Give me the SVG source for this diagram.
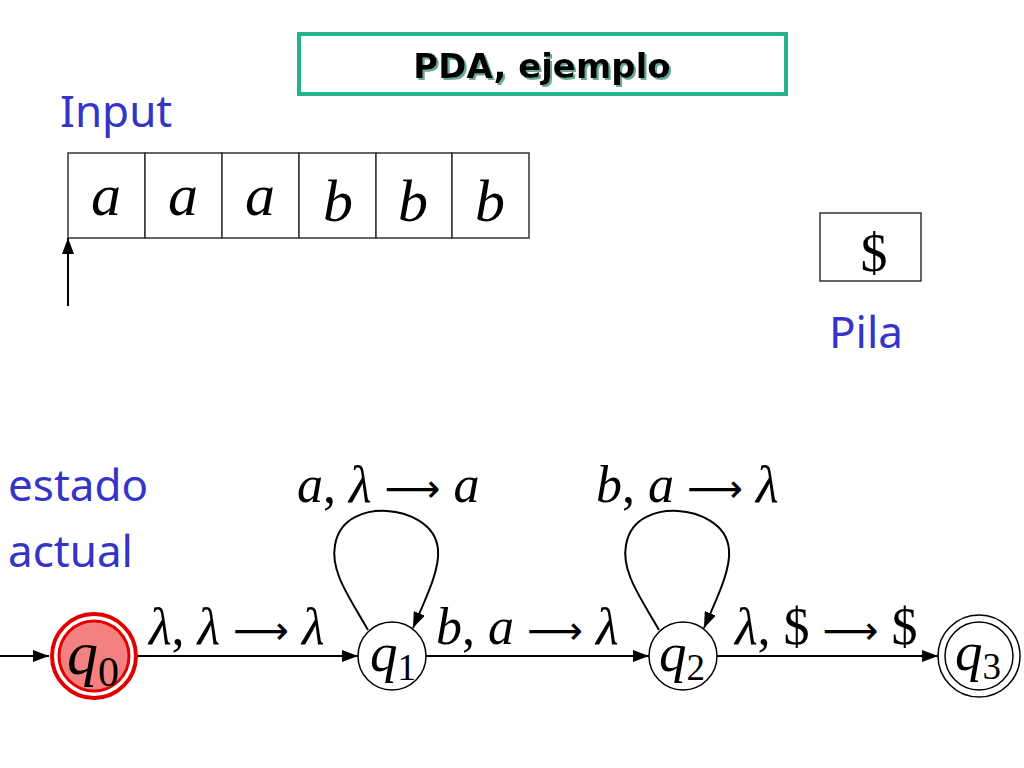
<svg xmlns="http://www.w3.org/2000/svg" width="1024" height="768" viewBox="0 0 1024 768">
<style>
.blue{font-family:"Noto Sans","DejaVu Sans",sans-serif;fill:#3434c8;font-size:44px}
.math{font-family:"Liberation Serif","Times New Roman",serif;font-size:52px;fill:#000}
.it{font-style:italic}
.ar{font-family:"DejaVu Sans",sans-serif;font-style:normal;font-size:39px}
.edge{fill:none;stroke:#000;stroke-width:2}
.cell{fill:#fff;stroke:#333;stroke-width:1.5}
.st{fill:#fff;stroke:#000;stroke-width:1.5}
</style>
<defs>
<marker id="ah" viewBox="0 0 16 12" refX="16" refY="6" markerWidth="16" markerHeight="12" markerUnits="userSpaceOnUse" orient="auto">
<path d="M0,0 L16,6 L0,12 Z" fill="#000"/>
</marker>
<filter id="sh" x="-10%" y="-20%" width="120%" height="150%">
<feDropShadow dx="2" dy="2" stdDeviation="0.6" flood-color="#6aa89a" flood-opacity="1"/>
</filter>
</defs>
<rect width="1024" height="768" fill="#fff"/>

<g id="title">
<rect x="299" y="34" width="487" height="60" fill="#fff" stroke="#22b38c" stroke-width="4"/>
<text x="542" y="78" text-anchor="middle" font-family="'DejaVu Sans',sans-serif" font-weight="bold" font-size="34" fill="#000" filter="url(#sh)">PDA, ejemplo</text>
</g>

<g id="input-label"><text class="blue" x="60" y="127">Input</text></g>

<g id="tape">
<rect class="cell" x="68" y="153" width="77" height="85"/>
<rect class="cell" x="145" y="153" width="77" height="85"/>
<rect class="cell" x="222" y="153" width="77" height="85"/>
<rect class="cell" x="299" y="153" width="77" height="85"/>
<rect class="cell" x="376" y="153" width="76" height="85"/>
<rect class="cell" x="452" y="153" width="77" height="85"/>
<g class="math it" text-anchor="middle" style="font-size:60px">
<text x="106" y="215">a</text>
<text x="183" y="215">a</text>
<text x="260" y="215">a</text>
<text x="338" y="221">b</text>
<text x="413" y="221">b</text>
<text x="490" y="221">b</text>
</g>
</g>

<g id="head">
<line class="edge" x1="68" y1="306" x2="68" y2="238" marker-end="url(#ah)"/>
</g>

<g id="stack">
<rect class="cell" x="820" y="213" width="101" height="68"/>
<text class="math" x="874" y="271" text-anchor="middle" style="font-size:54px">$</text>
</g>
<g id="pila-label"><text class="blue" x="829" y="348">Pila</text></g>

<g id="estado-label">
<text class="blue" x="8" y="501">estado</text>
<text class="blue" x="8" y="567">actual</text>
</g>

<g id="connectors">
<line class="edge" x1="0" y1="656" x2="49" y2="656" marker-end="url(#ah)"/>
<line class="edge" x1="137" y1="656" x2="358" y2="656" marker-end="url(#ah)"/>
<line class="edge" x1="426" y1="656" x2="649" y2="656" marker-end="url(#ah)"/>
<line class="edge" x1="717" y1="656" x2="938" y2="656" marker-end="url(#ah)"/>
<path class="edge" d="M368,630 C350,598 330,572 335,545 C340,515 370,510 387,511 C405,512 436,522 438,550 C440,570 425,600 413,628" marker-end="url(#ah)"/>
<path class="edge" d="M659,630 C641,598 621,572 626,545 C631,515 661,510 678,511 C696,512 727,522 729,550 C731,570 716,600 704,628" marker-end="url(#ah)"/>
<text class="math" x="149" y="644"><tspan class="it">λ</tspan>, <tspan class="it">λ</tspan> <tspan class="ar">⟶</tspan> <tspan class="it">λ</tspan></text>
<text class="math" x="436" y="644"><tspan class="it">b</tspan>, <tspan class="it">a</tspan> <tspan class="ar">⟶</tspan> <tspan class="it">λ</tspan></text>
<text class="math" x="735" y="644"><tspan class="it">λ</tspan>, $ <tspan class="ar">⟶</tspan> $</text>
<text class="math" x="297" y="502"><tspan class="it">a</tspan>, <tspan class="it">λ</tspan> <tspan class="ar">⟶</tspan> <tspan class="it">a</tspan></text>
<text class="math" x="596" y="502"><tspan class="it">b</tspan>, <tspan class="it">a</tspan> <tspan class="ar">⟶</tspan> <tspan class="it">λ</tspan></text>
</g>

<g id="q0">
<circle cx="94" cy="656" r="42" fill="#fff" stroke="#e00000" stroke-width="4"/>
<circle cx="94" cy="656" r="35" fill="#f58080" stroke="#e00000" stroke-width="3"/>
<text class="math" x="67" y="674" style="font-size:62px"><tspan class="it">q</tspan><tspan dy="12" style="font-size:42px">0</tspan></text>
</g>
<g id="q1">
<circle class="st" cx="392" cy="656" r="34"/>
<text class="math" x="370" y="671" style="font-size:55px"><tspan class="it">q</tspan><tspan dy="9" style="font-size:37px">1</tspan></text>
</g>
<g id="q2">
<circle class="st" cx="683" cy="656" r="34"/>
<text class="math" x="659" y="671" style="font-size:55px"><tspan class="it">q</tspan><tspan dy="9" style="font-size:37px">2</tspan></text>
</g>
<g id="q3">
<circle class="st" cx="979" cy="656" r="41"/>
<circle class="st" cx="979" cy="656" r="34"/>
<text class="math" x="955" y="670" style="font-size:55px"><tspan class="it">q</tspan><tspan dy="9" style="font-size:37px">3</tspan></text>
</g>
</svg>
